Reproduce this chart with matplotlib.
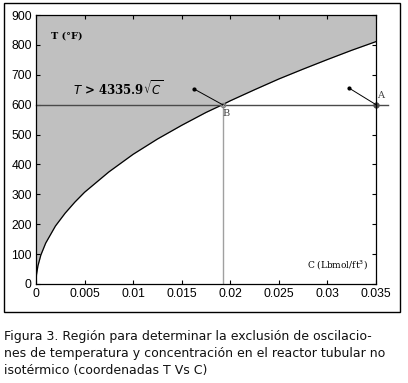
import matplotlib
matplotlib.use("Agg")
import matplotlib.pyplot as plt
from matplotlib.patches import Rectangle
import numpy as np

# Boundary curve T = 4335.9*sqrt(C)
conc = [0, 0.00005, 0.0002, 0.0005, 0.001, 0.002, 0.003, 0.004, 0.005, 0.0075,
        0.01, 0.0125, 0.015, 0.0175, 0.0192, 0.02, 0.0225, 0.025, 0.0275,
        0.03, 0.0325, 0.035]
temp = [0, 31, 61, 97, 137, 194, 237, 274, 307, 375, 434, 485, 531, 574, 600,
        613, 650, 686, 719, 751, 782, 811]

point_A = (0.035, 600)
point_B = (0.0192, 600)
arrow_A_end = (0.0322, 656)
arrow_B_end = (0.0163, 652)

xticks = [0, 0.005, 0.01, 0.015, 0.02, 0.025, 0.03, 0.035]
xticklabels = ["0", "0.005", "0.01", "0.015", "0.02", "0.025", "0.03", "0.035"]
yticks = [0, 100, 200, 300, 400, 500, 600, 700, 800, 900]

caption_lines = ["Figura 3. Región para determinar la exclusión de oscilacio-",
                 "nes de temperatura y concentración en el reactor tubular no",
                 "isotérmico (coordenadas T Vs C)"]

W, H = 408, 383
fig = plt.figure(figsize=(W / 100, H / 100), dpi=100)
fig.patch.set_facecolor("white")

# outer frame
fig.patches.append(Rectangle((4 / W, 1 - 312 / H), 396 / W, 309 / H,
                             transform=fig.transFigure, fill=False,
                             edgecolor="black", linewidth=1.0))

ax = fig.add_axes([36 / W, 1 - 284 / H, 340 / W, 269 / H])
ax.set_xlim(0, 0.035)
ax.set_ylim(0, 900)

ax.fill_between(conc, temp, 900, color="#c0c0c0", linewidth=0)
ax.plot(conc, temp, color="black", linewidth=0.9)

ax.plot([0, 0.0362], [600, 600], color="#4a4a4a", linewidth=1.0, clip_on=False)
ax.plot([point_B[0], point_B[0]], [0, 600], color="#a0a0a0", linewidth=1.0)

ax.plot(*point_A, "o", color="#505050", markersize=3.5, clip_on=False)
ax.plot(*point_B, "o", color="#808080", markersize=3, mfc="none")

for start, end in [(point_A, arrow_A_end), (point_B, arrow_B_end)]:
    ax.plot([start[0], end[0]], [start[1], end[1]], color="black", lw=0.7)
    ax.plot(*end, "o", color="black", markersize=2)

ax.text(0.0351, 615, "A", fontsize=7, family="DejaVu Serif", color="#404040",
        ha="left", va="bottom")
ax.text(0.0192, 585, "B", fontsize=7, family="DejaVu Serif", color="#404040",
        ha="left", va="top")

ax.text(0.0015, 830, "T (°F)", fontsize=7, family="DejaVu Serif",
        fontweight="bold", ha="left", va="center")
ax.text(0.0038, 655, r"$T$ > 4335.9$\sqrt{C}$", fontsize=8.5,
        family="DejaVu Serif", fontweight="bold", ha="left", va="center")
ax.text(0.0342, 40, "C (Lbmol/ft$^3$)", fontsize=6.5, family="DejaVu Serif",
        ha="right", va="bottom")

ax.set_xticks(xticks)
ax.set_xticklabels(xticklabels)
ax.set_yticks(yticks)
ax.tick_params(direction="in", length=3, width=0.8, top=True, right=True,
               labelsize=8.7, pad=3)
for lab in ax.get_xticklabels() + ax.get_yticklabels():
    lab.set_family("Liberation Sans")
for s in ax.spines.values():
    s.set_linewidth(0.9)

# caption: fit first line to ~366 px width
renderer = fig.canvas.get_renderer()
probe = fig.text(0, 0, caption_lines[0], fontsize=10, family="DejaVu Sans")
w10 = probe.get_window_extent(renderer).width
probe.remove()
cap_size = 10 * 366 / w10
baselines = [340, 357, 374]
for line, yb in zip(caption_lines, baselines):
    fig.text(4 / W, 1 - yb / H, line, fontsize=cap_size, family="DejaVu Sans",
             ha="left", va="baseline", color="#111111")

fig.savefig("out.png", dpi=100)
